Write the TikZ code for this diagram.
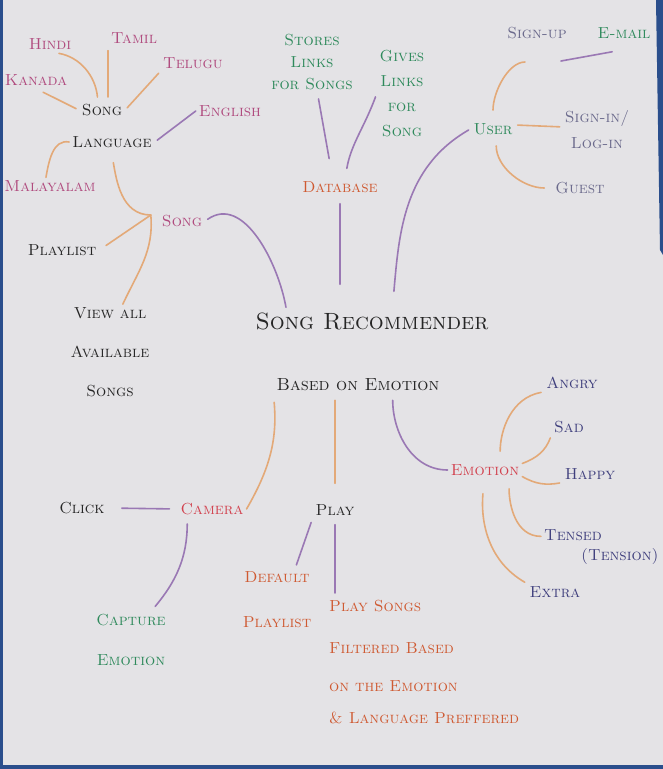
\documentclass[tikz,border=0pt]{standalone}
\usepackage{amsmath, amssymb}
\usepackage{tikz}

\definecolor{paper}{HTML}{E4E3E6}
\definecolor{edgeblue}{HTML}{2A4E8C}
\definecolor{inkpink}{HTML}{B04A7E}
\definecolor{inkgreen}{HTML}{2F8A5C}
\definecolor{inkred}{HTML}{D2424F}
\definecolor{inkorange}{HTML}{CF5A32}
\definecolor{inknavy}{HTML}{3F3F7D}
\definecolor{inkgray}{HTML}{6B6A8C}
\definecolor{inkblack}{HTML}{262626}
\definecolor{lnorange}{HTML}{E3A978}
\definecolor{lnpurple}{HTML}{9A78B4}

\begin{document}
\begin{tikzpicture}[x=1pt, y=1pt,
  lbl/.style={font=\fontsize{16}{20}\selectfont\scshape, inner sep=3pt, align=center},
  ttl/.style={font=\fontsize{23.5}{28}\selectfont\scshape, inner sep=3pt},
  sub/.style={font=\fontsize{17.5}{20}\selectfont\scshape, inner sep=3pt},
  orng/.style={draw=lnorange, line width=1.6pt, line cap=round},
  purp/.style={draw=lnpurple, line width=1.6pt, line cap=round}]

  % paper and the photo edges
  \fill[paper] (0,0) rectangle (663,-769);
  \fill[edgeblue] (0,0) rectangle (3,-769);
  \fill[edgeblue] (656,0) -- (663,0) -- (663,-255) -- (660,-250) -- cycle;
  \fill[edgeblue] (0,-765) rectangle (663,-769);
  \useasboundingbox (0,0) rectangle (663,-769);

  % centre
  \node[ttl, text=inkblack] (title) at (372,-321) {Song Recommender};
  \node[sub, text=inkblack] (based) at (358,-385) {Based on Emotion};

  % languages
  \node[lbl, text=inkpink] (hindi) at (50,-44) {Hindi};
  \node[lbl, text=inkpink] (tamil) at (134,-38) {Tamil};
  \node[lbl, text=inkpink] (telugu) at (193,-63) {Telugu};
  \node[lbl, text=inkpink] (kanada) at (36,-80) {Kanada};
  \node[lbl, text=inkblack] (songl) at (102,-110) {Song};
  \node[lbl, text=inkpink] (english) at (230,-111) {English};
  \node[lbl, text=inkblack] (language) at (112,-142) {Language};
  \node[lbl, text=inkpink] (malayalam) at (50,-186) {Malayalam};
  \node[lbl, text=inkpink] (songm) at (182,-221) {Song};
  \node[lbl, text=inkblack] (playlist) at (62,-250) {Playlist};
  \node[lbl, text=inkblack] (viewall) at (110,-352) {View all\\[19pt] Available\\[19pt] Songs};

  % database
  \node[lbl, text=inkgreen] (stores) at (312,-62) {Stores\\[2pt] Links\\[2pt] for Songs};
  \node[lbl, text=inkgreen] (gives) at (402,-94) {Gives\\[5pt] Links\\[5pt] for\\[5pt] Song};
  \node[lbl, text=inkorange] (database) at (340,-187) {Database};

  % user
  \node[lbl, text=inkgreen] (user) at (493,-129) {User};
  \node[lbl, text=inkgray] (signup) at (537,-33) {Sign-up};
  \node[lbl, text=inkgreen] (email) at (624,-33) {E-mail};
  \node[lbl, text=inkgray] (signin) at (597,-130) {Sign-in/\\[6pt] Log-in};
  \node[lbl, text=inkgray] (guest) at (580,-188) {Guest};

  % emotion
  \node[lbl, text=inkred] (emotion) at (485,-470) {Emotion};
  \node[lbl, text=inknavy] (angry) at (572,-383) {Angry};
  \node[lbl, text=inknavy] (sad) at (569,-427) {Sad};
  \node[lbl, text=inknavy] (happy) at (590,-474) {Happy};
  \node[lbl, text=inknavy, align=left, anchor=west] (tensed) at (541,-547) {Tensed\\[0pt] \hspace*{37pt}(Tension)};
  \node[lbl, text=inknavy] (extra) at (555,-592) {Extra};

  % camera and play
  \node[lbl, text=inkblack] (click) at (82,-508) {Click};
  \node[lbl, text=inkred] (camera) at (212,-509) {Camera};
  \node[lbl, text=inkgreen] (capture) at (131,-640) {Capture\\[20pt] Emotion};
  \node[lbl, text=inkblack] (play) at (335,-510) {Play};
  \node[lbl, text=inkorange] (defplay) at (277,-600) {Default\\[25pt] Playlist};
  \node[lbl, text=inkorange, align=left, anchor=north west] (playsongs) at (326,-597)
    {Play Songs\\[22pt] Filtered Based\\[18pt] on the Emotion\\[12pt] \& Language Preffered};

  % language branch
  \draw[orng, shorten <=4pt, shorten >=4pt] (songl.115) to[out=95,in=-10] (hindi.-60);
  \draw[orng, shorten <=4pt, shorten >=4pt] (tamil.south west) -- (tamil.south west |- songl.north);
  \draw[orng, shorten <=3pt, shorten >=2pt] (songl.east) -- (telugu.south west);
  \draw[orng, shorten <=3pt, shorten >=8pt] (songl.west) -- (kanada.south);
  \draw[purp, shorten <=3pt] (language.east) -- (english.west);
  \draw[orng] (language.west) to[out=170,in=80] (malayalam.115);
  \coordinate (hub) at ([xshift=-8pt,yshift=6pt]songm.west);
  \draw[orng, shorten <=12pt] (language.-95) to[out=-80,in=180] (hub);
  \draw[orng, shorten >=8pt] (hub) -- (playlist.east);
  \draw[orng] (hub) to[out=-85,in=65] (viewall.75);
  \draw[purp, shorten <=3pt, shorten >=2pt] (songm.east) to[out=35,in=100] ([xshift=34pt]title.north west);

  % database branch
  \draw[purp, shorten <=6pt, shorten >=20pt] (stores.-80) -- (database.130);
  \draw[purp, shorten <=3pt, shorten >=10pt] (gives.west) to[out=-110,in=80] (database.60);
  \draw[purp, shorten <=8pt, shorten >=25pt] (database.south) -- (database.south |- title.north);
  \draw[purp, shorten <=2pt, shorten >=18pt] (user.west) to[out=210,in=85] (title.30);

  % user branch
  \draw[orng, shorten <=10pt, shorten >=12pt] (user.north) to[out=90,in=180] ([yshift=-20pt]signup.south);
  \draw[purp, shorten >=12pt] ([xshift=-9pt,yshift=-19pt]signup.south east) -- ([yshift=-8pt]email.south);
  \draw[orng, shorten <=2pt, shorten >=2pt] (user.10) -- (signin.175);
  \draw[orng, shorten <=8pt, shorten >=8pt] (user.-70) to[out=-90,in=180] (guest.west);

  % emotion branch
  \draw[purp, shorten <=6pt] (based.-15) to[out=-90,in=180] (emotion.west);
  \draw[orng, shorten <=10pt, shorten >=2pt] (emotion.30) to[out=90,in=190] (angry.south west);
  \draw[orng, shorten >=2pt] (emotion.10) to[out=20,in=-110] (sad.south west);
  \draw[orng, shorten >=2pt] (emotion.-10) to[out=-30,in=190] (happy.south west);
  \draw[orng, shorten <=10pt] (emotion.-20) to[out=-90,in=180] (tensed.170);
  \draw[orng, shorten <=15pt, shorten >=2pt] (emotion.-95) to[out=-95,in=150] (extra.north west);

  % camera branch
  \draw[orng, shorten <=8pt] (based.south west) to[out=-85,in=60] (camera.east);
  \draw[purp, shorten <=14pt, shorten >=8pt] (click.east) -- (camera.west);
  \draw[purp, shorten <=6pt, shorten >=6pt] (camera.-160) to[out=-90,in=50] (capture.55);

  % play branch
  \draw[orng, shorten <=6pt, shorten >=18pt] (based.south -| play.north) -- (play.north);
  \draw[purp, shorten <=4pt, shorten >=4pt] (play.south west) -- (defplay.60);
  \draw[purp, shorten <=6pt, shorten >=4pt] (play.south) -- (play.south |- playsongs.north);
\end{tikzpicture}
\end{document}
